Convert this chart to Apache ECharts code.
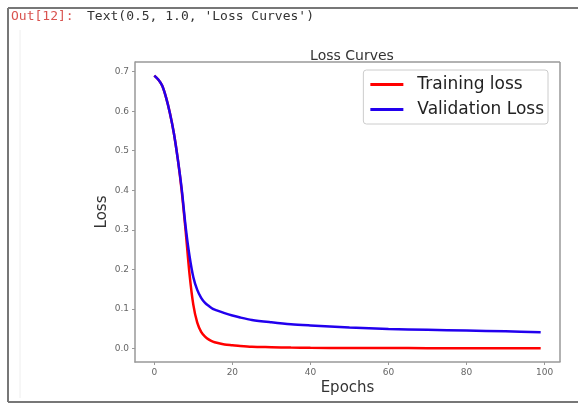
<!DOCTYPE html>
<html>
<head>
<meta charset="utf-8">
<script src="https://cdn.jsdelivr.net/npm/echarts@6/dist/echarts.min.js"></script>
<style>
    html, body { margin: 0; padding: 0; background: #fff; }
    #chart { width: 578px; height: 405px; }
</style>
</head>
<body>
<div id="chart"></div>
<script>
const epochs = [0, 1, 2, 3, 4, 5, 6, 7, 8, 9, 10, 11, 12, 13, 14, 15, 16, 18, 20, 22, 25, 30, 35, 40, 50, 60, 70, 80, 90, 99];
const trainLoss = [0.69, 0.68, 0.665, 0.635, 0.595, 0.545, 0.48, 0.40, 0.30, 0.19, 0.11, 0.065, 0.042, 0.03, 0.022, 0.017, 0.014, 0.010, 0.008, 0.006, 0.004, 0.003, 0.002, 0.0015, 0.001, 0.0008, 0.0006, 0.0005, 0.0004, 0.0003];
const valLoss = [0.69, 0.68, 0.665, 0.635, 0.595, 0.545, 0.48, 0.405, 0.31, 0.235, 0.18, 0.148, 0.128, 0.115, 0.107, 0.100, 0.096, 0.089, 0.083, 0.078, 0.072, 0.066, 0.061, 0.058, 0.053, 0.049, 0.047, 0.045, 0.043, 0.041];
const xTicks = [0, 20, 40, 60, 80, 100];
const yTicks = [0, 0.1, 0.2, 0.3, 0.4, 0.5, 0.6, 0.7];
const seriesNames = ['Training loss', 'Validation Loss'];

const pairs = (ys) => epochs.map((e, i) => [e, ys[i]]);

const chart = echarts.init(document.getElementById('chart'));
const axisGray = '#999';
const font = 'DejaVu Sans';

chart.setOption({
    animation: false,
    textStyle: { fontFamily: font },
    title: {
        text: 'Loss Curves',
        left: 347, textAlign: 'center', top: 44,
        textStyle: { fontSize: 14, fontWeight: 'normal', color: '#333', fontFamily: font }
    },
    legend: {
        orient: 'vertical',
        right: 30, top: 70,
        data: seriesNames,
        icon: 'rect',
        itemWidth: 33, itemHeight: 3,
        itemGap: 6,
        padding: [5, 4, 5, 7],
        borderColor: '#ccc', borderWidth: 1, borderRadius: 3,
        textStyle: { fontSize: 17, color: '#222', fontFamily: font, padding: [0, 0, 0, 9], lineHeight: 19 }
    },
    grid: { left: 135, right: 18, top: 62, bottom: 43 },
    xAxis: {
        type: 'value',
        min: -4.95, max: 103.95,
        name: 'Epochs', nameLocation: 'middle', nameGap: 19, nameMoveOverlap: false,
        nameTextStyle: { fontSize: 15, color: '#333', fontFamily: font },
        axisLine: { show: true, onZero: false, lineStyle: { color: axisGray, width: 1.5 } },
        axisTick: { show: true, customValues: xTicks, length: 3, lineStyle: { color: axisGray } },
        axisLabel: { customValues: xTicks, fontSize: 9, color: '#666', margin: 6 },
        splitLine: { show: false }
    },
    yAxis: {
        type: 'value',
        min: -0.0345, max: 0.7245,
        name: 'Loss', nameLocation: 'middle', nameGap: 25, nameRotate: 90, nameMoveOverlap: false,
        nameTextStyle: { fontSize: 15, color: '#333', fontFamily: font },
        axisLine: { show: true, onZero: false, lineStyle: { color: axisGray, width: 1.5 } },
        axisTick: { show: true, customValues: yTicks, length: 3, lineStyle: { color: axisGray } },
        axisLabel: { customValues: yTicks, fontSize: 9, color: '#666', margin: 6,
            formatter: (v) => v.toFixed(1) },
        splitLine: { show: false }
    },
    graphic: [
        { type: 'line', shape: { x1: 8, y1: 8, x2: 578, y2: 8 }, style: { stroke: '#777', lineWidth: 2 } },
        { type: 'line', shape: { x1: 8, y1: 8, x2: 8, y2: 402 }, style: { stroke: '#777', lineWidth: 2 } },
        { type: 'line', shape: { x1: 8, y1: 402, x2: 578, y2: 402 }, style: { stroke: '#777', lineWidth: 2 } },
        { type: 'line', shape: { x1: 20, y1: 30, x2: 20, y2: 398 }, style: { stroke: '#eee', lineWidth: 1 } },
        { type: 'line', shape: { x1: 135, y1: 62, x2: 560, y2: 62 }, style: { stroke: axisGray, lineWidth: 1.5 } },
        { type: 'line', shape: { x1: 560, y1: 62, x2: 560, y2: 362 }, style: { stroke: axisGray, lineWidth: 1.5 } },
        { type: 'text', left: 11, top: 10, style: { text: 'Out[12]:', fill: '#d9534f', font: '13px "DejaVu Sans Mono"' } },
        { type: 'text', left: 87, top: 10, style: { text: "Text(0.5, 1.0, 'Loss Curves')", fill: '#333', font: '13px "DejaVu Sans Mono"' } }
    ],
    series: [
        {
            name: seriesNames[0], type: 'line', data: pairs(trainLoss),
            showSymbol: false, smooth: 0.3,
            itemStyle: { color: '#ff0000' },
            lineStyle: { color: '#ff0000', width: 2.5 }
        },
        {
            name: seriesNames[1], type: 'line', data: pairs(valLoss),
            showSymbol: false, smooth: 0.3,
            itemStyle: { color: '#2200ee' },
            lineStyle: { color: '#2200ee', width: 2.5 }
        }
    ]
});
</script>
</body>
</html>
